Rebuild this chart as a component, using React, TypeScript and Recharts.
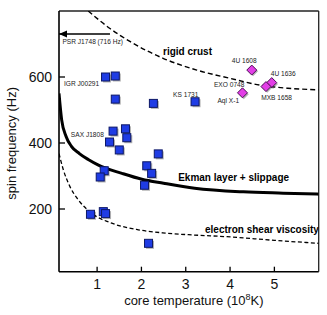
import { ComposedChart, XAxis, YAxis, Line, Scatter, ReferenceLine } from "recharts";

// spin frequency (Hz) vs core temperature (10^8 K)
const tempTicks = [1, 2, 3, 4, 5];
const freqTicks = [200, 400, 600];

// accreting ms pulsars / burst sources (blue squares)
const lmxbTemp = [1.19, 1.41, 1.41, 2.27, 3.21, 1.36, 1.64, 1.67, 1.28, 1.5, 2.38, 2.12, 2.23, 2.07, 1.16, 1.07, 0.85, 1.14, 1.19, 2.16];
const lmxbFreq = [600, 603, 533, 520, 525, 436, 443, 416, 403, 379, 367, 331, 308, 272, 316, 297, 184, 192, 186, 96];

// named sources (magenta diamonds)
const namedSrc = ["4U 1608", "4U 1636", "MXB 1658", "Aql X-1"];
const namedTemp = [4.49, 4.94, 4.81, 4.28];
const namedFreq = [621, 583, 571, 552];

// instability curves
const rigidTemp = [0.8, 1.29, 1.75, 2.5, 3.25, 4.0, 4.69, 5.3, 6.0];
const rigidFreq = [800, 747, 707, 656, 621, 596, 575, 566, 561];
const ekmanTemp = [0.14, 0.2, 0.3, 0.42, 0.6, 0.8, 1.03, 1.56, 2.01, 2.5, 3.2, 4.3, 5.2, 6.0];
const ekmanFreq = [550, 470, 420, 390, 368, 350, 333, 308, 290, 278, 263, 252, 248, 245];
const shearTemp = [0.14, 0.24, 0.39, 0.58, 0.88, 1.33, 1.93, 2.54, 3.2, 3.93, 5.0, 6.0];
const shearFreq = [368, 318, 267, 227, 187, 157, 137, 127, 121, 116, 105, 96];

// PSR J1748 arrow
const psrTemp = [0.14, 1.29];
const psrFreq = [730, 730];

// annotations
const noteText = ["PSR J1748 (716 Hz)", "IGR J00291", "SAX J1808", "KS 1731", "4U 1608", "4U 1636", "EXO 0748", "Aql X-1", "MXB 1658", "rigid crust", "Ekman layer + slippage", "electron shear viscosity"];
const noteTemp = [0.9, 0.65, 0.78, 3.0, 4.32, 5.2, 3.98, 3.96, 5.05, 3.04, 4.08, 4.72];
const noteFreq = [708, 579, 425, 548, 651, 611, 578, 530, 538, 678, 296, 139];
const noteBold = [false, false, false, false, false, false, false, false, false, true, true, true];

const pts = (xs: number[], ys: number[]) => xs.map((x, i) => ({ x, y: ys[i] }));

const lmxb = pts(lmxbTemp, lmxbFreq);
const named = namedSrc.map((name, i) => ({ name, x: namedTemp[i], y: namedFreq[i] }));
const rigid = pts(rigidTemp, rigidFreq);
const ekman = pts(ekmanTemp, ekmanFreq);
const shear = pts(shearTemp, shearFreq);
const psr = pts(psrTemp, psrFreq);
const notes = noteText.map((text, i) => ({ text, x: noteTemp[i], y: noteFreq[i], bold: noteBold[i] }));

const font = "'Liberation Sans', Arial, Helvetica, sans-serif";

function XTick({ x, y, payload }: any) {
  return (
    <g>
      <line x1={x} x2={x} y1={y - 7} y2={y - 12} stroke="#000" strokeWidth={1.3} />
      <text x={x} y={y + 10.5} textAnchor="middle" fontSize={14} fill="#111" fontFamily={font}>
        {payload.value}
      </text>
    </g>
  );
}

function YTick({ x, y, payload }: any) {
  return (
    <g>
      <line x1={x + 7} x2={x + 13} y1={y} y2={y} stroke="#000" strokeWidth={1.3} />
      <text x={x} y={y + 5} textAnchor="end" fontSize={14} fill="#111" fontFamily={font}>
        {payload.value}
      </text>
    </g>
  );
}

const Square = (p: any) => (
  <g>
    <rect x={p.cx - 2.5} y={p.cy - 2.5} width={8} height={8} fill="rgba(0,0,0,0.3)" />
    <rect x={p.cx - 4} y={p.cy - 4} width={8} height={8} fill="#1f3ce4" stroke="#0d1866" strokeWidth={1} />
  </g>
);

const Diamond = (p: any) => {
  const { cx, cy } = p;
  const r = 5;
  const d = (ox: number) => `M${cx + ox},${cy - r + ox} L${cx + r + ox},${cy + ox} L${cx + ox},${cy + r + ox} L${cx - r + ox},${cy + ox} Z`;
  return (
    <g>
      <path d={d(1.3)} fill="rgba(0,0,0,0.3)" />
      <path d={d(0)} fill="#e23ee6" stroke="#4e1057" strokeWidth={1} />
    </g>
  );
};

const Note = (p: any) => {
  const n = p.payload;
  return (
    <text
      x={p.cx}
      y={p.cy}
      textAnchor="middle"
      dominantBaseline="central"
      fontSize={n.bold ? 10 : 6.6}
      fontWeight={n.bold ? "bold" : "normal"}
      fill={n.bold ? "#000" : "#222"}
      fontFamily={font}
    >
      {n.text}
    </text>
  );
};

const ArrowDot = (p: any) => {
  if (p.index !== 0) return <g key={p.index} />;
  const { cx, cy } = p;
  return <path key={p.index} d={`M${cx},${cy} L${cx + 8},${cy - 3.5} L${cx + 8},${cy + 3.5} Z`} fill="#000" />;
};

export default function App() {
  return (
    <div style={{ position: "fixed", left: 0, top: 0, background: "#fff" }}>
      <ComposedChart width={327} height={315} margin={{ top: 11, right: 8.3, bottom: 0, left: 0 }} style={{ fontFamily: font }}>
        <XAxis
          type="number"
          dataKey="x"
          domain={[0.14, 6]}
          allowDataOverflow
          ticks={tempTicks}
          height={43.3}
          tickSize={0}
          tickMargin={7}
          tick={<XTick />}
          axisLine={{ stroke: "#000", strokeWidth: 1.6 }}
          label={{
            content: ({ viewBox }: any) => (
              <text x={viewBox.x + viewBox.width / 2 + 5} y={viewBox.y + 33.5} textAnchor="middle" fontSize={13} fill="#111" fontFamily={font}>
                core temperature (10
                <tspan dy={-5} fontSize={9}>8</tspan>
                <tspan dy={5}>K)</tspan>
              </text>
            ),
          }}
        />
        <YAxis
          type="number"
          dataKey="y"
          domain={[10, 800]}
          allowDataOverflow
          ticks={freqTicks}
          width={59}
          tickSize={0}
          tickMargin={7}
          tick={<YTick />}
          axisLine={{ stroke: "#000", strokeWidth: 1.6 }}
          label={{
            content: ({ viewBox }: any) => (
              <text
                x={11.5}
                y={viewBox.y + viewBox.height / 2 + 2}
                transform={`rotate(-90, 11.5, ${viewBox.y + viewBox.height / 2 + 2})`}
                textAnchor="middle"
                dominantBaseline="central"
                fontSize={13}
                fill="#111"
                fontFamily={font}
              >
                spin frequency (Hz)
              </text>
            ),
          }}
        />
        <ReferenceLine y={800} stroke="#222" strokeWidth={1.3} />
        <ReferenceLine x={6} stroke="#222" strokeWidth={1.3} />
        <Line data={rigid} dataKey="y" type="monotone" stroke="#000" strokeWidth={1.4} strokeDasharray="5 3" dot={false} activeDot={false} isAnimationActive={false} />
        <Line data={shear} dataKey="y" type="monotone" stroke="#000" strokeWidth={1.3} strokeDasharray="4 2.5" dot={false} activeDot={false} isAnimationActive={false} />
        <Line data={ekman} dataKey="y" type="monotone" stroke="#000" strokeWidth={3} dot={false} activeDot={false} isAnimationActive={false} />
        <Line data={psr} dataKey="y" type="linear" stroke="#000" strokeWidth={1.5} dot={ArrowDot} activeDot={false} isAnimationActive={false} />
        <Scatter data={notes} shape={Note} isAnimationActive={false} />
        <Scatter data={lmxb} shape={Square} isAnimationActive={false} />
        <Scatter data={named} shape={Diamond} isAnimationActive={false} />
      </ComposedChart>
    </div>
  );
}
